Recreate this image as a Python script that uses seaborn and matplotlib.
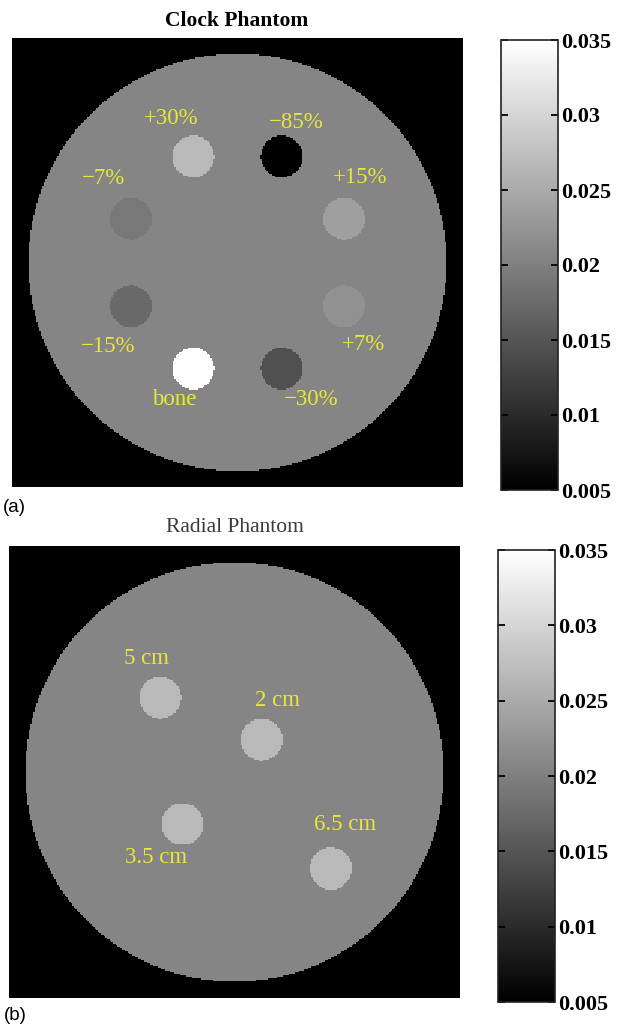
import numpy as np
import matplotlib
matplotlib.use('Agg')
import matplotlib.pyplot as plt
import seaborn as sns

# attenuation values
water_mu = 0.0206
vmin, vmax = 0.005, 0.035
cbar_ticks = [0.005, 0.01, 0.015, 0.02, 0.025, 0.03, 0.035]
cbar_ticklabels = ['0.005', '0.01', '0.015', '0.02', '0.025', '0.03', '0.035']

# clock phantom: inserts on a ring, contrast relative to water
clock_labels = ['+15%', '\u221285%', '+30%', '\u22127%', '\u221215%', 'bone', '\u221230%', '+7%']
clock_contrast = [0.15, -0.85, 0.30, -0.07, -0.15, 0.85, -0.30, 0.07]
clock_angle_deg = [22.5, 67.5, 112.5, 157.5, 202.5, 247.5, 292.5, 337.5]
clock_ring_cm = 5.5
clock_label_dx = [0.77, 0.68, -1.05, -1.3, -1.1, -0.9, 1.4, 0.94]
clock_label_dy = [1.97, 1.6, 1.8, 1.9, -1.9, -1.5, -1.5, -1.84]

# radial phantom: same insert material at different radial distances
radial_labels = ['5 cm', '2 cm', '3.5 cm', '6.5 cm']
radial_dist_cm = [5.0, 2.0, 3.5, 6.5]
radial_angle_deg = [135, 50, 225, -45]
radial_contrast = [0.30, 0.30, 0.30, 0.30]
radial_label_dx = [-0.64, 0.77, -1.28, 0.69]
radial_label_dy = [1.87, 1.88, -1.6, 2.1]

fov_cm = 21.5
n_pix = 300
disk_r_cm = 10.0
insert_r_cm = 1.0
pix_cm = fov_cm / n_pix

YELLOW = '#e8e838'
SERIF = ['Liberation Serif', 'DejaVu Serif']
SANS = ['Liberation Sans', 'DejaVu Sans']


def polar_xy(dist, angle_deg):
    a = np.deg2rad(np.asarray(angle_deg, dtype=float))
    d = np.asarray(dist, dtype=float)
    return d * np.cos(a), d * np.sin(a)


def make_phantom(xs, ys, contrast):
    c = (np.arange(n_pix) + 0.5) * pix_cm - fov_cm / 2
    X, Y = np.meshgrid(c, -c)
    img = np.zeros((n_pix, n_pix))
    # shave a hair off the radius so single cells don't poke out on the axes
    img[X**2 + Y**2 < (disk_r_cm - 0.02)**2] = water_mu
    for x0, y0, con in zip(xs, ys, contrast):
        img[(X - x0)**2 + (Y - y0)**2 < insert_r_cm**2] = water_mu * (1 + con)
    return img


def to_cells(x, y):
    # cm -> heatmap cell coordinates (row 0 at the top)
    return (x + fov_cm / 2) / pix_cm, (fov_cm / 2 - y) / pix_cm


def draw_panel(ax, cax, img, xs, ys, labels, ldx, ldy):
    sns.heatmap(img, ax=ax, cbar_ax=cax, cmap='gray', vmin=vmin, vmax=vmax,
                xticklabels=False, yticklabels=False, linewidths=0,
                cbar_kws={'ticks': cbar_ticks})
    ax.set_xlabel('')
    ax.set_ylabel('')
    for x0, y0, lab, dx, dy in zip(xs, ys, labels, ldx, ldy):
        u, v = to_cells(x0 + dx, y0 + dy)
        ax.text(u, v, lab, ha='center', va='center', color=YELLOW,
                fontsize=16.5, family=SERIF)
    cbar = ax.collections[0].colorbar
    cbar.set_ticks(cbar_ticks)
    cbar.set_ticklabels(cbar_ticklabels)
    cbar.outline.set_edgecolor('#222222')
    cbar.outline.set_linewidth(1.2)
    cax.tick_params(direction='in', left=True, right=True, length=5, width=1.3,
                    labelsize=16, pad=2)
    for t in cax.get_yticklabels():
        t.set_family(SERIF)
        t.set_fontweight('bold')


W, H = 618, 1026
fig = plt.figure(figsize=(W / 100, H / 100), dpi=100)


def box(left, top, width, height):
    return [left / W, (H - top - height) / H, width / W, height / H]


ax1 = fig.add_axes(box(12, 38, 451, 449))
cax1 = fig.add_axes(box(501, 40, 57, 450))
ax2 = fig.add_axes(box(9, 546, 451, 452))
cax2 = fig.add_axes(box(498, 550, 57, 452))

cx, cy = polar_xy([clock_ring_cm] * len(clock_angle_deg), clock_angle_deg)
draw_panel(ax1, cax1, make_phantom(cx, cy, clock_contrast), cx, cy,
           clock_labels, clock_label_dx, clock_label_dy)

rx, ry = polar_xy(radial_dist_cm, radial_angle_deg)
draw_panel(ax2, cax2, make_phantom(rx, ry, radial_contrast), rx, ry,
           radial_labels, radial_label_dx, radial_label_dy)

fig.text(237 / W, 1 - 21 / H, 'Clock Phantom', ha='center', va='center',
         fontsize=15.5, fontweight='bold', family=SERIF)
fig.text(235 / W, 1 - 527 / H, 'Radial Phantom', ha='center', va='center',
         fontsize=15.5, color='#3a3a3a', family=SERIF)
fig.text(3 / W, 1 - 507 / H, '(a)', ha='left', va='center', fontsize=13.5,
         family=SANS)
fig.text(4 / W, 1 - 1015 / H, '(b)', ha='left', va='center', fontsize=13.5,
         family=SANS)

fig.savefig('out.png', dpi=100)
